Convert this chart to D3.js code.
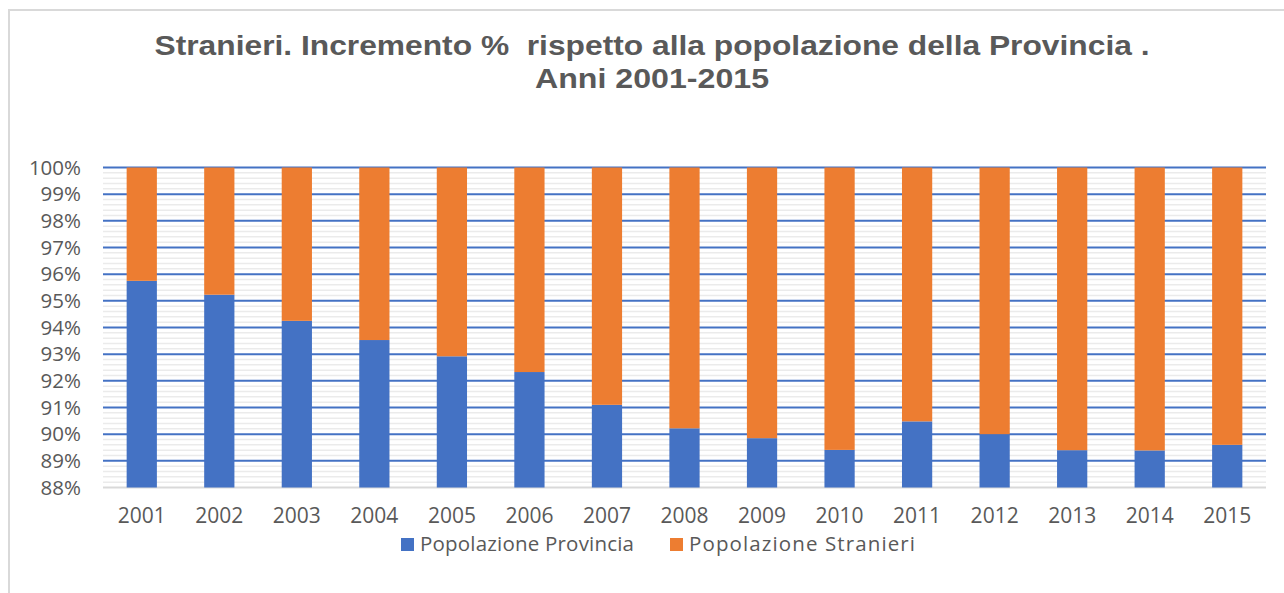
<!DOCTYPE html>
<html>
<head>
<meta charset="utf-8">
<script src="https://cdn.jsdelivr.net/npm/d3@7"></script>
<style>
  body { margin: 0; background: #fff; }
  text { font-family: "Open Sans", sans-serif; fill: #595959; }
</style>
</head>
<body>
<svg width="1284" height="593"></svg>
<script>
var years = ["2001","2002","2003","2004","2005","2006","2007","2008","2009","2010","2011","2012","2013","2014","2015"];
var popProvincia = [95.75, 95.23, 94.25, 93.53, 92.92, 92.33, 91.1, 90.22, 89.85, 89.41, 90.48, 90.0, 89.4, 89.39, 89.6];
var popStranieri = [4.25, 4.77, 5.75, 6.47, 7.08, 7.67, 8.9, 9.78, 10.15, 10.59, 9.52, 10.0, 10.6, 10.61, 10.4];
var yTicks = [88, 89, 90, 91, 92, 93, 94, 95, 96, 97, 98, 99, 100];
var seriesNames = ["Popolazione Provincia", "Popolazione Stranieri"];
var colors = ["#4472C4", "#ED7D31"];

var svg = d3.select("svg");
var plotLeft = 103, plotRight = 1266, plotTop = 167.5, plotBottom = 487.5;

// chart frame
svg.append("rect")
  .attr("x", 9).attr("y", 10)
  .attr("width", 1300).attr("height", 700)
  .attr("fill", "none")
  .attr("stroke", "#d9d9d9")
  .attr("stroke-width", 2);

// title
var title = svg.append("text")
  .attr("text-anchor", "middle")
  .style("font-family", "'Liberation Sans', Arial, sans-serif")
  .style("font-weight", "bold")
  .style("font-size", "28px");
title.append("tspan").attr("x", 652).attr("y", 55)
  .attr("textLength", 995).attr("lengthAdjust", "spacingAndGlyphs")
  .style("white-space", "pre")
  .text("Stranieri. Incremento %  rispetto alla popolazione della Provincia .");
title.append("tspan").attr("x", 652).attr("y", 88)
  .attr("textLength", 234).attr("lengthAdjust", "spacingAndGlyphs")
  .text("Anni 2001-2015");

var x = d3.scaleBand()
  .domain(years)
  .range([plotLeft, plotRight])
  .paddingInner(0.61)
  .paddingOuter(0.305);

var y = d3.scaleLinear()
  .domain([88, 100])
  .range([plotBottom, plotTop]);

// minor gridlines
svg.append("g")
  .selectAll("line")
  .data(d3.range(880, 1000, 2).map(function(d) { return d / 10; }).filter(function(d) { return d % 1 != 0; }))
  .enter().append("line")
  .attr("x1", plotLeft).attr("x2", plotRight)
  .attr("y1", function(d) { return y(d); })
  .attr("y2", function(d) { return y(d); })
  .attr("stroke", "#ebebeb")
  .attr("stroke-width", 1.5);

// major gridlines
svg.append("g")
  .selectAll("line")
  .data(yTicks.slice(1))
  .enter().append("line")
  .attr("x1", plotLeft).attr("x2", plotRight)
  .attr("y1", function(d) { return y(d); })
  .attr("y2", function(d) { return y(d); })
  .attr("stroke", "#4472C4")
  .attr("stroke-width", 2);

// bottom axis line
svg.append("line")
  .attr("x1", plotLeft).attr("x2", plotRight)
  .attr("y1", y(88)).attr("y2", y(88))
  .attr("stroke", "#d9d9d9")
  .attr("stroke-width", 2);

// stacked bars
var rows = years.map(function(yr, i) {
  return { year: yr, prov: popProvincia[i], stran: popStranieri[i] };
});
var stack = d3.stack().keys(["prov", "stran"]);
var layers = stack(rows);

svg.append("g")
  .selectAll("g")
  .data(layers)
  .enter().append("g")
  .attr("fill", function(d, i) { return colors[i]; })
  .selectAll("rect")
  .data(function(d) { return d; })
  .enter().append("rect")
  .attr("x", function(d) { return x(d.data.year); })
  .attr("width", x.bandwidth())
  .attr("y", function(d) { return y(Math.min(d[1], 100)); })
  .attr("height", function(d) {
    return y(Math.max(d[0], 88)) - y(Math.min(d[1], 100));
  });

// y axis labels
var yAxis = d3.axisLeft(y)
  .tickValues(yTicks)
  .tickFormat(function(d) { return d + "%"; })
  .tickSize(0)
  .tickPadding(0);
var gy = svg.append("g")
  .attr("transform", "translate(81,0)")
  .call(yAxis);
gy.select(".domain").remove();
gy.selectAll("text")
  .style("font-size", "20.5px")
  .style("fill", "#595959")
  .style("font-family", "'Open Sans', sans-serif");

// x axis labels
var xAxis = d3.axisBottom(x).tickSize(0).tickPadding(0);
var gx = svg.append("g")
  .attr("transform", "translate(0,508)")
  .call(xAxis);
gx.select(".domain").remove();
gx.selectAll("text")
  .style("font-size", "21px")
  .style("fill", "#595959")
  .style("font-family", "'Open Sans', sans-serif");

// legend
var legendX = [401, 670];
var legendW = [214, 226];
var legend = svg.append("g")
  .selectAll("g")
  .data(seriesNames)
  .enter().append("g")
  .attr("transform", function(d, i) { return "translate(" + legendX[i] + ",538)"; });
legend.append("rect")
  .attr("width", 13).attr("height", 13)
  .attr("fill", function(d, i) { return colors[i]; });
legend.append("text")
  .attr("x", 19).attr("y", 13)
  .attr("textLength", function(d, i) { return legendW[i]; })
  .attr("lengthAdjust", "spacing")
  .style("font-size", "20.5px")
  .text(function(d) { return d; });
</script>
</body>
</html>
